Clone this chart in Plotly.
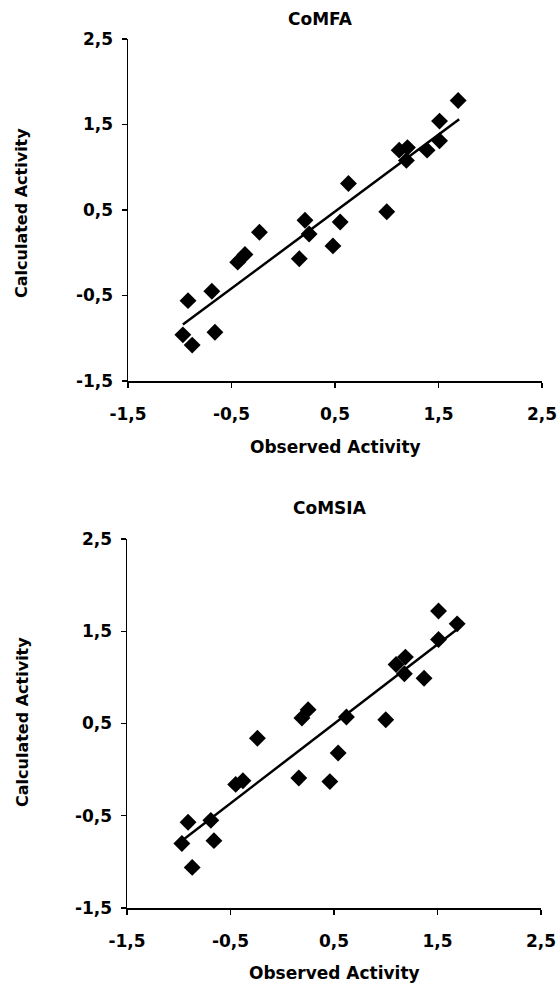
import plotly.graph_objects as go

# ---- data ----
comfa_observed = [-0.92, -0.69, -0.97, -0.88, -0.66, -0.44, -0.37, -0.23, 0.155, 0.21, 0.25,
                  0.48, 0.55, 0.63, 1.00, 1.12, 1.20, 1.19, 1.39, 1.51, 1.51, 1.69]
comfa_calculated = [-0.56, -0.45, -0.96, -1.08, -0.93, -0.11, -0.02, 0.24, -0.07, 0.38, 0.22,
                    0.08, 0.36, 0.81, 0.48, 1.20, 1.23, 1.08, 1.20, 1.54, 1.31, 1.78]
comfa_fit_x = [-0.97, 1.70]
comfa_fit_y = [-0.84, 1.56]

comsia_observed = [-0.91, -0.69, -0.97, -0.66, -0.87, -0.45, -0.38, -0.24, 0.16, 0.19, 0.25,
                   0.46, 0.54, 0.62, 1.00, 1.10, 1.19, 1.18, 1.37, 1.51, 1.51, 1.69]
comsia_calculated = [-0.57, -0.55, -0.80, -0.77, -1.06, -0.16, -0.12, 0.34, -0.09, 0.56, 0.65,
                     -0.13, 0.18, 0.57, 0.54, 1.14, 1.22, 1.04, 0.99, 1.41, 1.72, 1.58]
comsia_fit_x = [-0.97, 1.70]
comsia_fit_y = [-0.77, 1.53]

tick_vals = [-1.5, -0.5, 0.5, 1.5, 2.5]
tick_labels = ["-1,5", "-0,5", "0,5", "1,5", "2,5"]
titles = ["CoMFA", "CoMSIA"]
x_title = "Observed Activity"
y_title = "Calculated Activity"

W, H = 560, 984
FONT = "DejaVu Sans"


def px(x):
    return x / W


def py(y):
    return 1 - y / H


fig = go.Figure()

for i, (ox, cy, fx, fy) in enumerate([
        (comfa_observed, comfa_calculated, comfa_fit_x, comfa_fit_y),
        (comsia_observed, comsia_calculated, comsia_fit_x, comsia_fit_y)]):
    xa = "x" if i == 0 else "x2"
    ya = "y" if i == 0 else "y2"
    fig.add_trace(go.Scatter(x=ox, y=cy, mode="markers", xaxis=xa, yaxis=ya,
                             marker=dict(symbol="diamond", size=13, color="black",
                                         line=dict(width=0)),
                             showlegend=False, hoverinfo="skip"))
    fig.add_trace(go.Scatter(x=fx, y=fy, mode="lines", xaxis=xa, yaxis=ya,
                             line=dict(color="black", width=2.5),
                             showlegend=False, hoverinfo="skip"))

axis_common = dict(
    range=[-1.5, 2.5], tickmode="array", tickvals=tick_vals, ticktext=tick_labels,
    showgrid=False, zeroline=False, showline=True, linecolor="black", linewidth=1.5,
    ticks="outside", ticklen=5, tickwidth=1.2, tickcolor="black",
    tickfont=dict(family=FONT, size=17, color="black", weight="bold"),
    fixedrange=True, automargin=False,
)

fig.update_layout(
    width=W, height=H, autosize=False,
    margin=dict(l=0, r=0, t=0, b=0, pad=0),
    paper_bgcolor="white", plot_bgcolor="white",
    showlegend=False,
    xaxis=dict(axis_common, domain=[px(128), px(542)], anchor="y", ticklabelstandoff=12),
    yaxis=dict(axis_common, domain=[py(381), py(39)], anchor="x", ticklabelstandoff=5),
    xaxis2=dict(axis_common, domain=[px(127), px(541)], anchor="y2", ticklabelstandoff=12),
    yaxis2=dict(axis_common, domain=[py(908), py(539)], anchor="x2", ticklabelstandoff=5),
)

tfont = dict(family=FONT, size=17, color="black", weight="bold")
yfont = dict(family=FONT, size=16, color="black", weight="bold")
ann = [
    dict(text=titles[0], x=px(320), y=py(19), font=tfont),
    dict(text=titles[1], x=px(330), y=py(508), font=tfont),
    dict(text=x_title, x=px(335), y=py(447), font=tfont),
    dict(text=x_title, x=px(334), y=py(973), font=tfont),
    dict(text=y_title, x=px(22), y=py(213), font=yfont, textangle=-90),
    dict(text=y_title, x=px(22), y=py(722), font=yfont, textangle=-90),
]
for a in ann:
    fig.add_annotation(xref="paper", yref="paper", showarrow=False,
                       xanchor="center", yanchor="middle", **a)

fig.write_html("out.html",
               config={"displayModeBar": False, "staticPlot": True},
               post_script="document.body.style.margin='0';document.body.style.overflow='hidden';")
